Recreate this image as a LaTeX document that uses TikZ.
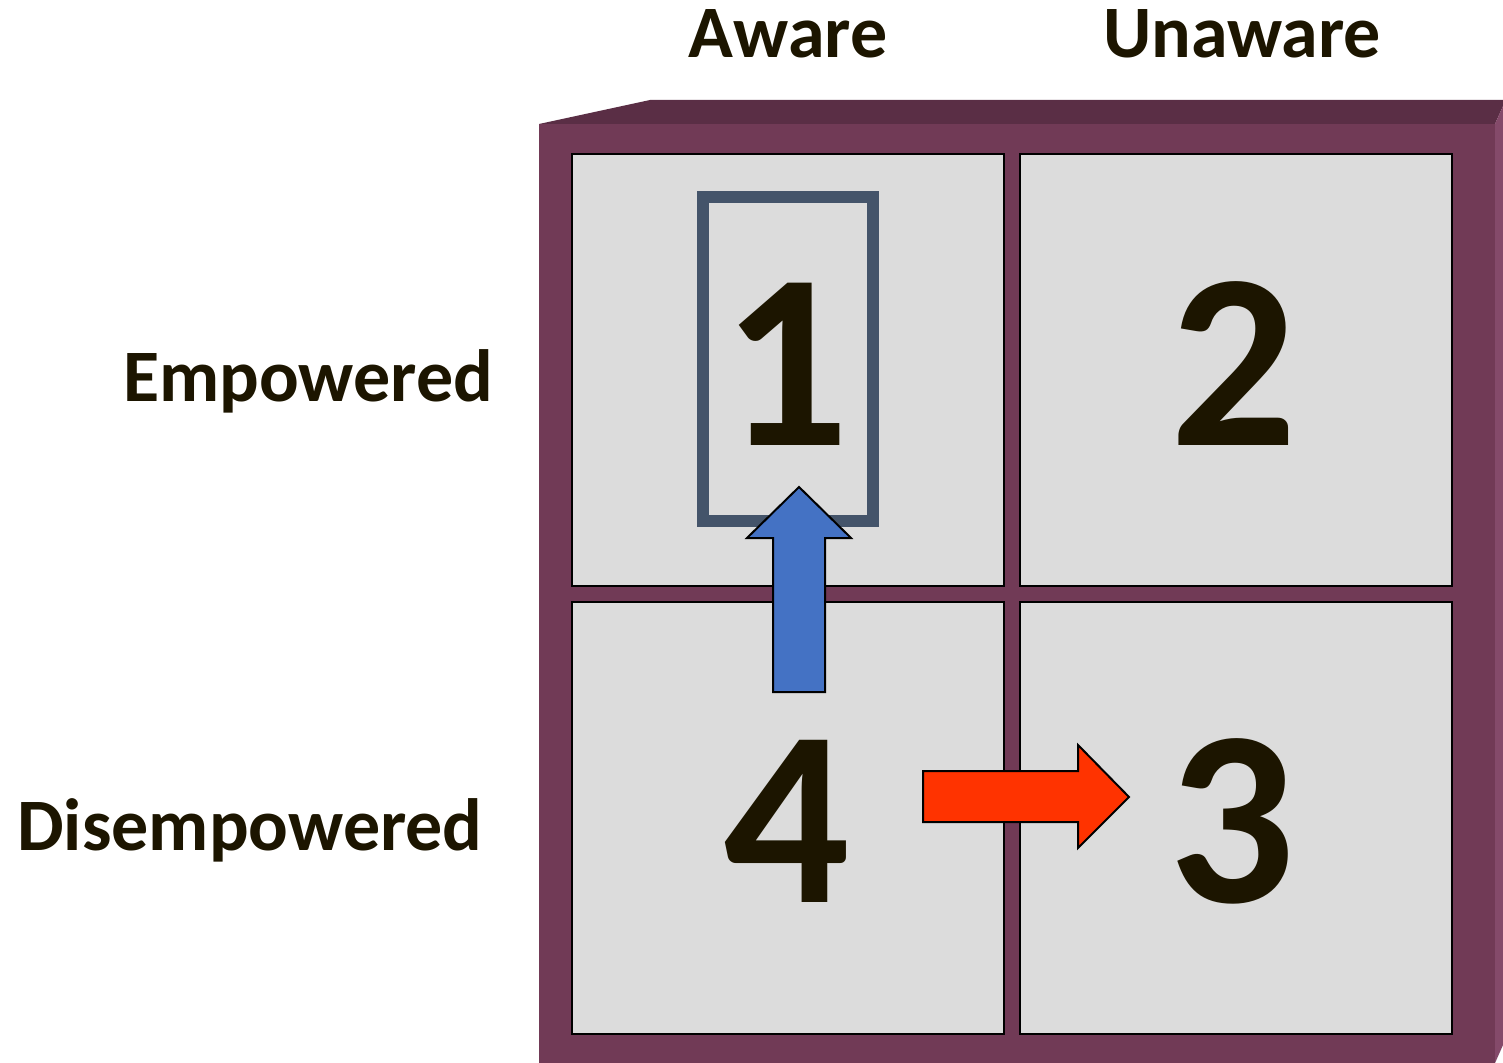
\documentclass[tikz,border=0pt]{standalone}
\usepackage{fontspec}
\setmainfont{Carlito}
\usepackage{tikz}
\usetikzlibrary{positioning}

\definecolor{boxfront}{HTML}{713A56}
\definecolor{boxtop}{HTML}{5A2E45}
\definecolor{boxside}{HTML}{844A6A}
\definecolor{cellgray}{HTML}{DCDCDC}
\definecolor{txt}{HTML}{1C1500}
\definecolor{framecol}{HTML}{44546A}
\definecolor{upblue}{HTML}{4472C4}
\definecolor{rightred}{HTML}{FF3300}

\tikzset{
	cell/.style={draw=black, line width=1.3pt, fill=cellgray, minimum width=216pt, minimum height=216pt, inner sep=0pt},
	digit/.style={anchor=base, text=txt, inner sep=0pt, font=\fontsize{125}{130}\selectfont\bfseries},
	head/.style={anchor=base, text=txt, inner sep=0pt, font=\fontsize{37}{42}\selectfont\bfseries},
	blockarrow/.style={draw=black, line width=1pt, line join=miter}
}

\begin{document}
\begin{tikzpicture}[x=0.5pt, y=-0.5pt]
	\useasboundingbox (0,0) rectangle (1503,1063);
	
	%Kasten
	\fill[boxtop] (539,124) -- (650,100) -- (1503,100) -- (1503,106) -- (1495,124) -- cycle;
	\fill[boxside] (1495,124) -- (1503,106) -- (1503,1045) -- (1495,1063) -- cycle;
	\fill[boxfront] (539,124) rectangle (1495,1063);
	
	%Felder
	\node[cell] (c1) at (788,370) {};
	\node[cell] (c2) at (1236,370) {};
	\node[cell] (c4) at (788,818) {};
	\node[cell] (c3) at (1236,818) {};
	
	\draw[framecol, line width=6pt] (703,197) rectangle (873,521);
	
	\node[digit] (n1) at (786,446) {1};
	\node[digit] (n2) at (1234,446) {2};
	\node[digit] (n4) at (787,902) {4};
	\node[digit] (n3) at (1232,902) {3};
	
	%Beschriftung
	\node[head] (aware) at (788,58) {Aware};
	\node[head] (unaware) at (1242,58) {Unaware};
	\node[head] (emp) at (308,402) {Empowered};
	\node[head] (dis) at (250,850) {Disempowered};
	
	%Pfeile
	\draw[blockarrow, fill=upblue] (773,692) -- (773,538) -- (747,538) -- (799,487) -- (851,538) -- (825,538) -- (825,692) -- cycle;
	\draw[blockarrow, fill=rightred] (923,771) -- (1078,771) -- (1078,745) -- (1129,797) -- (1078,848) -- (1078,822) -- (923,822) -- cycle;

\end{tikzpicture}
\end{document}
